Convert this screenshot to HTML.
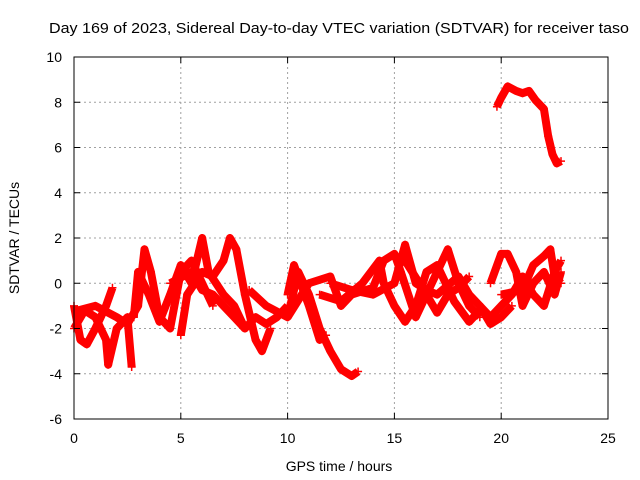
<!DOCTYPE html>
<html><head><meta charset="utf-8"><style>
body{margin:0;background:#fff}
svg{display:block;font-family:"Liberation Sans",sans-serif;font-size:14px}
</style></head><body>
<svg id="chart" width="640" height="480">
<rect x="0" y="0" width="640" height="480" fill="#fff"/>
<text x="49" y="33" textLength="580" lengthAdjust="spacingAndGlyphs" font-size="14.5">Day 169 of 2023, Sidereal Day-to-day VTEC variation (SDTVAR) for receiver taso</text>
<text x="339" y="471" text-anchor="middle">GPS time / hours</text>
<text transform="translate(19,238) rotate(-90)" text-anchor="middle">SDTVAR / TECUs</text>
<g id="grid"></g><g id="series"></g>
<rect x="74" y="57" width="534" height="362" fill="none" stroke="#000" stroke-width="1"/>
<g id="ticks"></g>
</svg>
<script>
const xTicks=[0,5,10,15,20,25];
const yTicks=[-6,-4,-2,0,2,4,6,8,10];
const t1=[[0,-1],[0.3,-2.5],[0.6,-2.7],[1,-2],[1.5,-1],[1.8,-0.2]];
const t2=[[0,-2],[0.5,-1.2],[1,-1.5],[1.5,-2.5],[1.6,-3.6],[2,-2],[2.5,-1.5],[2.7,-3.7]];
const t3=[[0.2,-1.2],[1,-1],[2,-1.5],[2.5,-1.8],[3,-1],[3.3,1.5],[3.6,0.5],[4,-1.5],[4.5,-2],[5,0.5],[5.5,1],[6,0],[6.5,-1]];
const t4=[[2.8,-1.5],[3,0.5],[3.5,-0.5],[4,-1.7],[4.5,-0.5],[5,0.8],[5.5,0],[6,2],[6.3,0.5],[7,-0.5],[7.5,-1],[8,-2],[8.5,-1.5],[9,-1.8],[9.5,-1.5],[10,-1]];
const t5=[[5,-2.3],[5.3,-0.5],[6,0.5],[6.5,0.3],[7,1],[7.3,2],[7.6,1.5],[8,-0.5],[8.5,-2.5],[8.8,-3],[9.2,-2]];
const t6=[[4.5,0],[5.5,0.5],[6,-0.3],[6.5,-0.5],[7,-1],[7.5,-1.5],[8,-2]];
const t7=[[8.2,-0.3],[9,-1],[10,-1.5],[10.5,0.5],[11,-0.5],[11.5,-2],[12,-3],[12.5,-3.8],[13,-4.1],[13.3,-3.9]];
const t8=[[10,-0.5],[10.3,0.8],[11,-1],[11.5,-2.5],[11.8,-2.3]];
const t9=[[10,-1.5],[11,0],[12,0.3],[12.5,-1],[13,-0.5],[14,-0.2],[14.5,1],[15,1.3],[15.3,0.5],[16,-1.5],[16.5,-0.5],[17,0.5],[17.5,1.5],[18,0],[18.5,-1],[19,-1.5]];
const t10=[[11.5,-0.5],[12.5,-0.8],[13.5,0],[14.3,1],[14.5,0],[15,-1],[15.5,-1.7],[16,-1],[16.5,0.5],[17,0.8],[17.8,-0.8],[18.5,-1.7],[19,-1.2]];
const t11=[[12,0],[13,-0.3],[14,-0.5],[15,0],[15.5,1.7],[16,0],[16.5,-0.3],[17,-0.5],[18,0.3],[18.5,-0.5],[19,-1],[19.5,-1.8],[20,-1.5],[20.5,-1]];
const t12=[[15.5,1],[16.5,-0.5],[17,-1.3],[17.5,-0.5],[18,-0.2],[18.5,0.3]];
const t13=[[19.5,0],[20,1.3],[20.3,1.3],[20.7,0.5],[21,-1],[21.5,0],[22,0.5],[22.5,-0.5],[22.8,0.5]];
const t14=[[19,-1],[19.5,-1.5],[20,-1],[20.5,-0.5],[21,0.3],[21.5,-0.5],[22,-1],[22.5,0.5],[22.8,1]];
const t15=[[20,-0.5],[21,-0.3],[21.5,0.8],[22,1.2],[22.3,1.5],[22.5,0.3],[22.8,0]];
const t16=[[19.8,7.8],[20,8.2],[20.3,8.7],[20.7,8.5],[21,8.4],[21.3,8.5],[21.6,8.1],[22,7.7],[22.2,6.5],[22.4,5.7],[22.6,5.3],[22.8,5.4]];
const tracks=[t1,t2,t3,t4,t5,t6,t7,t8,t9,t10,t11,t12,t13,t14,t15,t16];
const NS='http://www.w3.org/2000/svg';
const X0=74,X1=608,Y0=419,Y1=57,xmin=0,xmax=25,ymin=-6,ymax=10;
function xs(v){return X0+(v-xmin)/(xmax-xmin)*(X1-X0);}
function ys(v){return Y0-(v-ymin)/(ymax-ymin)*(Y0-Y1);}
function mk(tag,a){const e=document.createElementNS(NS,tag);for(const k in a)e.setAttribute(k,a[k]);return e;}
const grid=document.getElementById('grid'),ticks=document.getElementById('ticks'),ser=document.getElementById('series');
xTicks.forEach(v=>{const x=xs(v);
 if(v>xmin&&v<xmax){const g=mk('line',{x1:x,x2:x,y1:Y1,y2:Y0,stroke:'#a0a0a0','stroke-dasharray':'2,3'});
 
 grid.appendChild(g);}
 ticks.appendChild(mk('line',{x1:x,x2:x,y1:Y0,y2:Y0-6,stroke:'#000'}));
 ticks.appendChild(mk('line',{x1:x,x2:x,y1:Y1,y2:Y1+6,stroke:'#000'}));
 const t=mk('text',{x:x,y:443,'text-anchor':'middle'});t.textContent=v;
 
 ticks.appendChild(t);});
yTicks.forEach(v=>{const y=ys(v);
 if(v>ymin&&v<ymax){const g=mk('line',{x1:X0,x2:X1,y1:y,y2:y,stroke:'#a0a0a0','stroke-dasharray':'2,3'});
 
 grid.appendChild(g);}
 ticks.appendChild(mk('line',{x1:X0,x2:X0+6,y1:y,y2:y,stroke:'#000'}));
 ticks.appendChild(mk('line',{x1:X1,x2:X1-6,y1:y,y2:y,stroke:'#000'}));
 const t=mk('text',{x:62,y:y+5,'text-anchor':'end'});t.textContent=v;
 
 ticks.appendChild(t);});
tracks.forEach((tr,i)=>{
 const p=mk('polyline',{points:tr.map(d=>xs(d[0])+','+ys(d[1])).join(' '),fill:'none',stroke:'#ff0000','stroke-width':8,'stroke-linejoin':'round','stroke-linecap':'butt'});
 
 
 ser.appendChild(p);
 tr.forEach(d=>{const x=xs(d[0]),y=ys(d[1]);
  const m=mk('path',{d:`M${x-4},${y}H${x+4}M${x},${y-4}V${y+4}`,stroke:'#ff0000','stroke-width':1.5});
  
  
  ser.appendChild(m);});
});
</script>
</body></html>
